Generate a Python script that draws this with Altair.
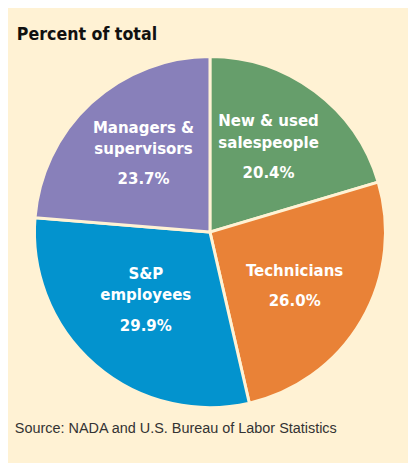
import altair as alt
import pandas as pd

categories = ["New & used salespeople", "Technicians", "S&P employees", "Managers & supervisors"]
line_top = ["New & used", "", "S&P", "Managers &"]
line_bottom = ["salespeople", "Technicians", "employees", "supervisors"]
values = [20.4, 26.0, 29.9, 23.7]
pct_labels = ["20.4%", "26.0%", "29.9%", "23.7%"]
colors = ["#669E6B", "#E98237", "#0393CE", "#8880BA"]
title_text = "Percent of total"
source_text = "Source: NADA and U.S. Bureau of Labor Statistics"

BG = "#FFF2D4"
COND = "DejaVu Sans Condensed, Liberation Sans Narrow, Roboto Condensed, Arial Narrow, sans-serif"

df = pd.DataFrame({
    "cat": categories,
    "value": values,
    "order": list(range(len(values))),
    "top": line_top,
    "bottom": line_bottom,
    "pct": pct_labels,
})

theta = alt.Theta("value:Q", stack=True)
color = alt.Color("cat:N", scale=alt.Scale(domain=categories, range=colors), legend=None)
order = alt.Order("order:Q")

base = alt.Chart(df)

pie = base.mark_arc(outerRadius=179, stroke=BG, strokeWidth=3).encode(
    theta=theta, color=color, order=order
)

txt = dict(radius=100, font=COND, fontWeight="bold", fontSize=17, color="white")

top_lines = base.mark_text(baseline="bottom", dy=-24, **txt).encode(
    theta=theta, order=order, text="top")
bottom_lines = base.mark_text(baseline="bottom", dy=-2, **txt).encode(
    theta=theta, order=order, text="bottom")
pcts = base.mark_text(baseline="top", dy=12, **txt).encode(
    theta=theta, order=order, text="pct")

title = alt.Chart(pd.DataFrame({"t": [title_text]})).mark_text(
    font=COND, fontWeight="bold", fontSize=18, color="#111111", align="left", baseline="alphabetic"
).encode(x=alt.value(5), y=alt.value(26), text="t")

source = alt.Chart(pd.DataFrame({"t": [source_text]})).mark_text(
    font="Liberation Sans", fontSize=14.7, color="#333333", align="left", baseline="middle"
).encode(x=alt.value(3), y=alt.value(423), text="t")

chart = alt.layer(pie, top_lines, bottom_lines, pcts, title, source).properties(
    width=404, height=444, background=BG,
    padding={"left": 4, "top": 2, "right": 0, "bottom": 9},
).configure_view(stroke=None)

chart.save("out.html", embed_options={"renderer": "svg", "actions": False})
